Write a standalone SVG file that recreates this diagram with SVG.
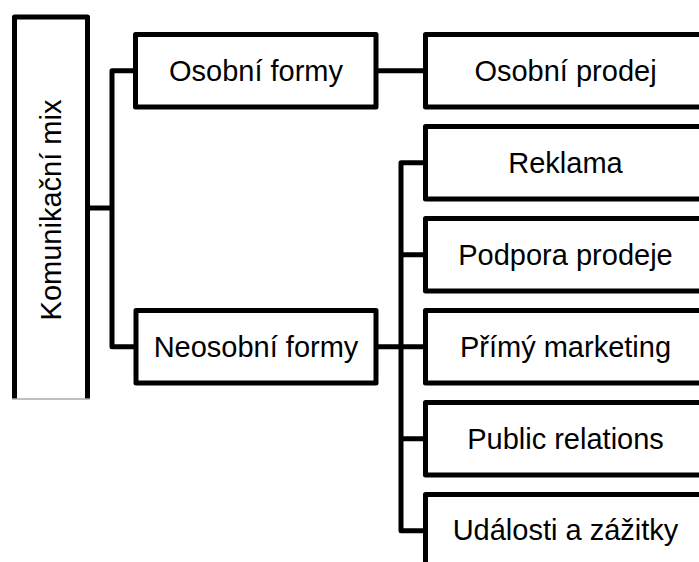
<svg xmlns="http://www.w3.org/2000/svg" width="699" height="562" viewBox="0 0 699 562">
<style>
.box{fill:#fff;stroke:#000;stroke-width:5;stroke-linejoin:round}
.ln{fill:none;stroke:#000;stroke-width:5;stroke-linejoin:round}
.t{font-family:"Liberation Sans",Arial,sans-serif;font-size:29px;fill:#000;text-anchor:middle}
</style>
<rect width="699" height="562" fill="#fff"/>
<g id="connectors">
<path class="ln" d="M87.5,208 H112 M135.5,70.75 H112 V346.75 H136"/>
<path class="ln" d="M376,70.75 H425.5"/>
<path class="ln" d="M376,346.75 H425.5 M425.5,162.75 H401 V530.75 H425.5 M401,254.75 H425.5 M401,438.75 H425.5"/>
</g>
<g id="komunikacni-mix">
<rect x="14.5" y="17" width="73" height="382" fill="#fff"/>
<path class="ln" d="M14.5,399 V17 H87.5 V399"/>
<line x1="12" y1="399" x2="90" y2="399" stroke="#aaa" stroke-width="1.5"/>
<text class="t" transform="translate(61,210) rotate(-90)">Komunikační mix</text>
</g>
<g id="osobni-formy">
<rect class="box" x="135.5" y="34.5" width="240.5" height="72.5"/>
<text class="t" x="256" y="80.5">Osobní formy</text>
</g>
<g id="neosobni-formy">
<rect class="box" x="136" y="310.5" width="240" height="72.5"/>
<text class="t" x="256" y="356.5">Neosobní formy</text>
</g>
<g id="osobni-prodej">
<rect class="box" x="425.5" y="34.5" width="281" height="72.5"/>
<text class="t" x="565.5" y="80.5">Osobní prodej</text>
</g>
<g id="reklama">
<rect class="box" x="425.5" y="126.5" width="281" height="72.5"/>
<text class="t" x="565.5" y="172.5">Reklama</text>
</g>
<g id="podpora-prodeje">
<rect class="box" x="425.5" y="218.5" width="281" height="72.5"/>
<text class="t" x="565.5" y="264.5">Podpora prodeje</text>
</g>
<g id="primy-marketing">
<rect class="box" x="425.5" y="310.5" width="281" height="72.5"/>
<text class="t" x="565.5" y="356.5">Přímý marketing</text>
</g>
<g id="public-relations">
<rect class="box" x="425.5" y="402.5" width="281" height="72.5"/>
<text class="t" x="565.5" y="448.5">Public relations</text>
</g>
<g id="udalosti-a-zazitky">
<rect class="box" x="425.5" y="494.5" width="281" height="80"/>
<text class="t" x="565.5" y="540">Události a zážitky</text>
</g>
</svg>
